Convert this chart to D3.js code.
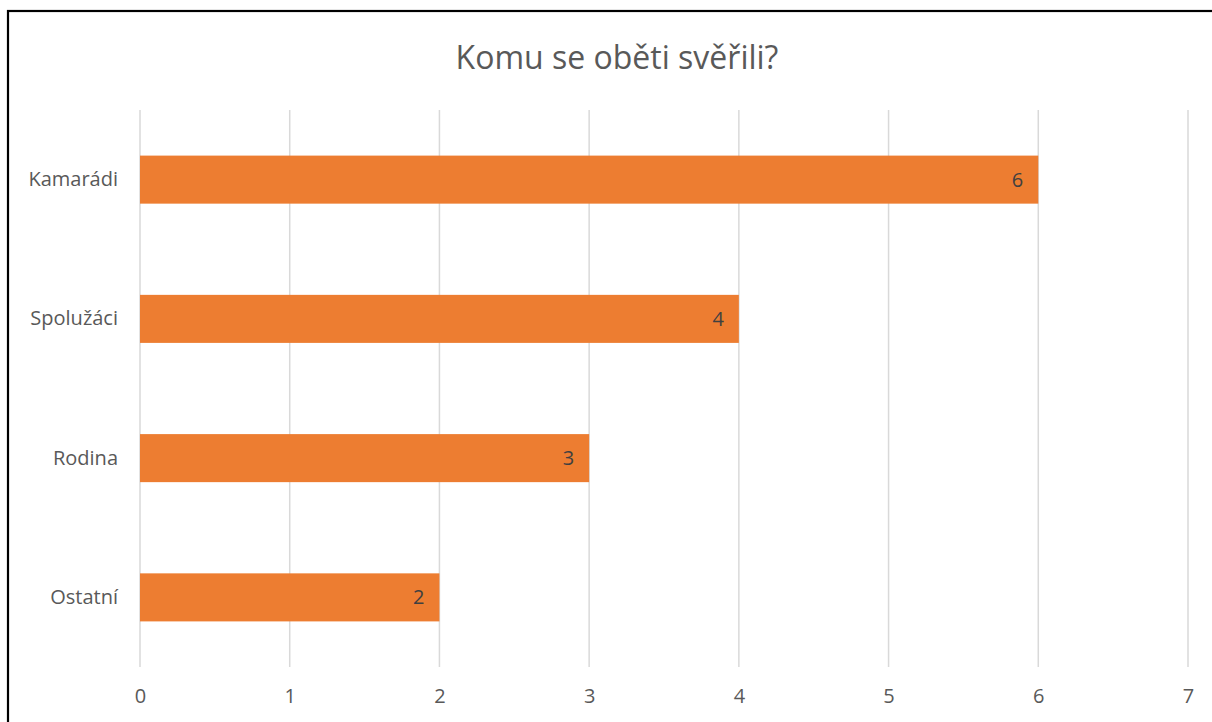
<html>
<head>
    <script src="https://d3js.org/d3.v7.min.js"></script>
    <style>
        body { margin: 0; background: white; }
        svg { display: block; font-family: "Open Sans", "Noto Sans", sans-serif; }
    </style>
</head>
<body>
    <svg id="chart" width="1212" height="722"></svg>
    <script>
        const categories = ["Kamarádi", "Spolužáci", "Rodina", "Ostatní"];
        const counts = [6, 4, 3, 2];
        const xTicks = [0, 1, 2, 3, 4, 5, 6, 7];
        const title = "Komu se oběti svěřili?";

        const data = categories.map((c, i) => ({name: c, value: counts[i]}));

        const svg = d3.select("#chart");

        // outer frame like the pasted chart border
        svg.append("rect")
            .attr("x", 8).attr("y", 11)
            .attr("width", 1230).attr("height", 740)
            .attr("fill", "white")
            .attr("stroke", "black")
            .attr("stroke-width", 2.2);

        const plotTop = 110, plotBottom = 667;

        const x = d3.scaleLinear().domain([0, 7]).range([140, 1188]);
        const y = d3.scaleBand()
            .domain(categories)
            .range([plotTop, plotBottom])
            .paddingInner(0.655)
            .paddingOuter(0.3275);

        svg.append("text")
            .attr("x", 617).attr("y", 69)
            .attr("text-anchor", "middle")
            .style("font-size", "32px")
            .style("fill", "#595959")
            .text(title);

        // vertical gridlines
        svg.append("g").selectAll("line")
            .data(xTicks)
            .join("line")
            .attr("x1", d => x(d)).attr("x2", d => x(d))
            .attr("y1", plotTop).attr("y2", plotBottom)
            .attr("stroke", "#d9d9d9")
            .attr("stroke-width", 1.5);

        // x axis labels
        const xAxis = svg.append("g")
            .attr("transform", "translate(0," + plotBottom + ")")
            .call(d3.axisBottom(x).tickValues(xTicks).tickSize(0).tickPadding(22).tickFormat(d3.format("d")));
        xAxis.select(".domain").remove();
        xAxis.selectAll("text")
            .style("font-size", "20px")
            .style("font-family", "'Open Sans', sans-serif")
            .attr("fill", "#595959");

        // y axis labels
        const yAxis = svg.append("g")
            .attr("transform", "translate(" + x(0) + ",0)")
            .call(d3.axisLeft(y).tickSize(0).tickPadding(22));
        yAxis.select(".domain").remove();
        yAxis.selectAll("text")
            .style("font-size", "20px")
            .style("font-family", "'Open Sans', sans-serif")
            .attr("fill", "#595959");

        // bars
        svg.append("g").selectAll("rect")
            .data(data)
            .join("rect")
            .attr("x", x(0))
            .attr("y", d => y(d.name))
            .attr("width", d => x(d.value) - x(0))
            .attr("height", y.bandwidth())
            .attr("fill", "#ed7d31");

        // value labels inside end
        svg.append("g").selectAll("text")
            .data(data)
            .join("text")
            .attr("x", d => x(d.value) - 15)
            .attr("y", d => y(d.name) + y.bandwidth() / 2)
            .attr("dy", "0.35em")
            .attr("text-anchor", "end")
            .style("font-size", "20px")
            .attr("fill", "#404040")
            .text(d => d.value);
    </script>
</body>
</html>
